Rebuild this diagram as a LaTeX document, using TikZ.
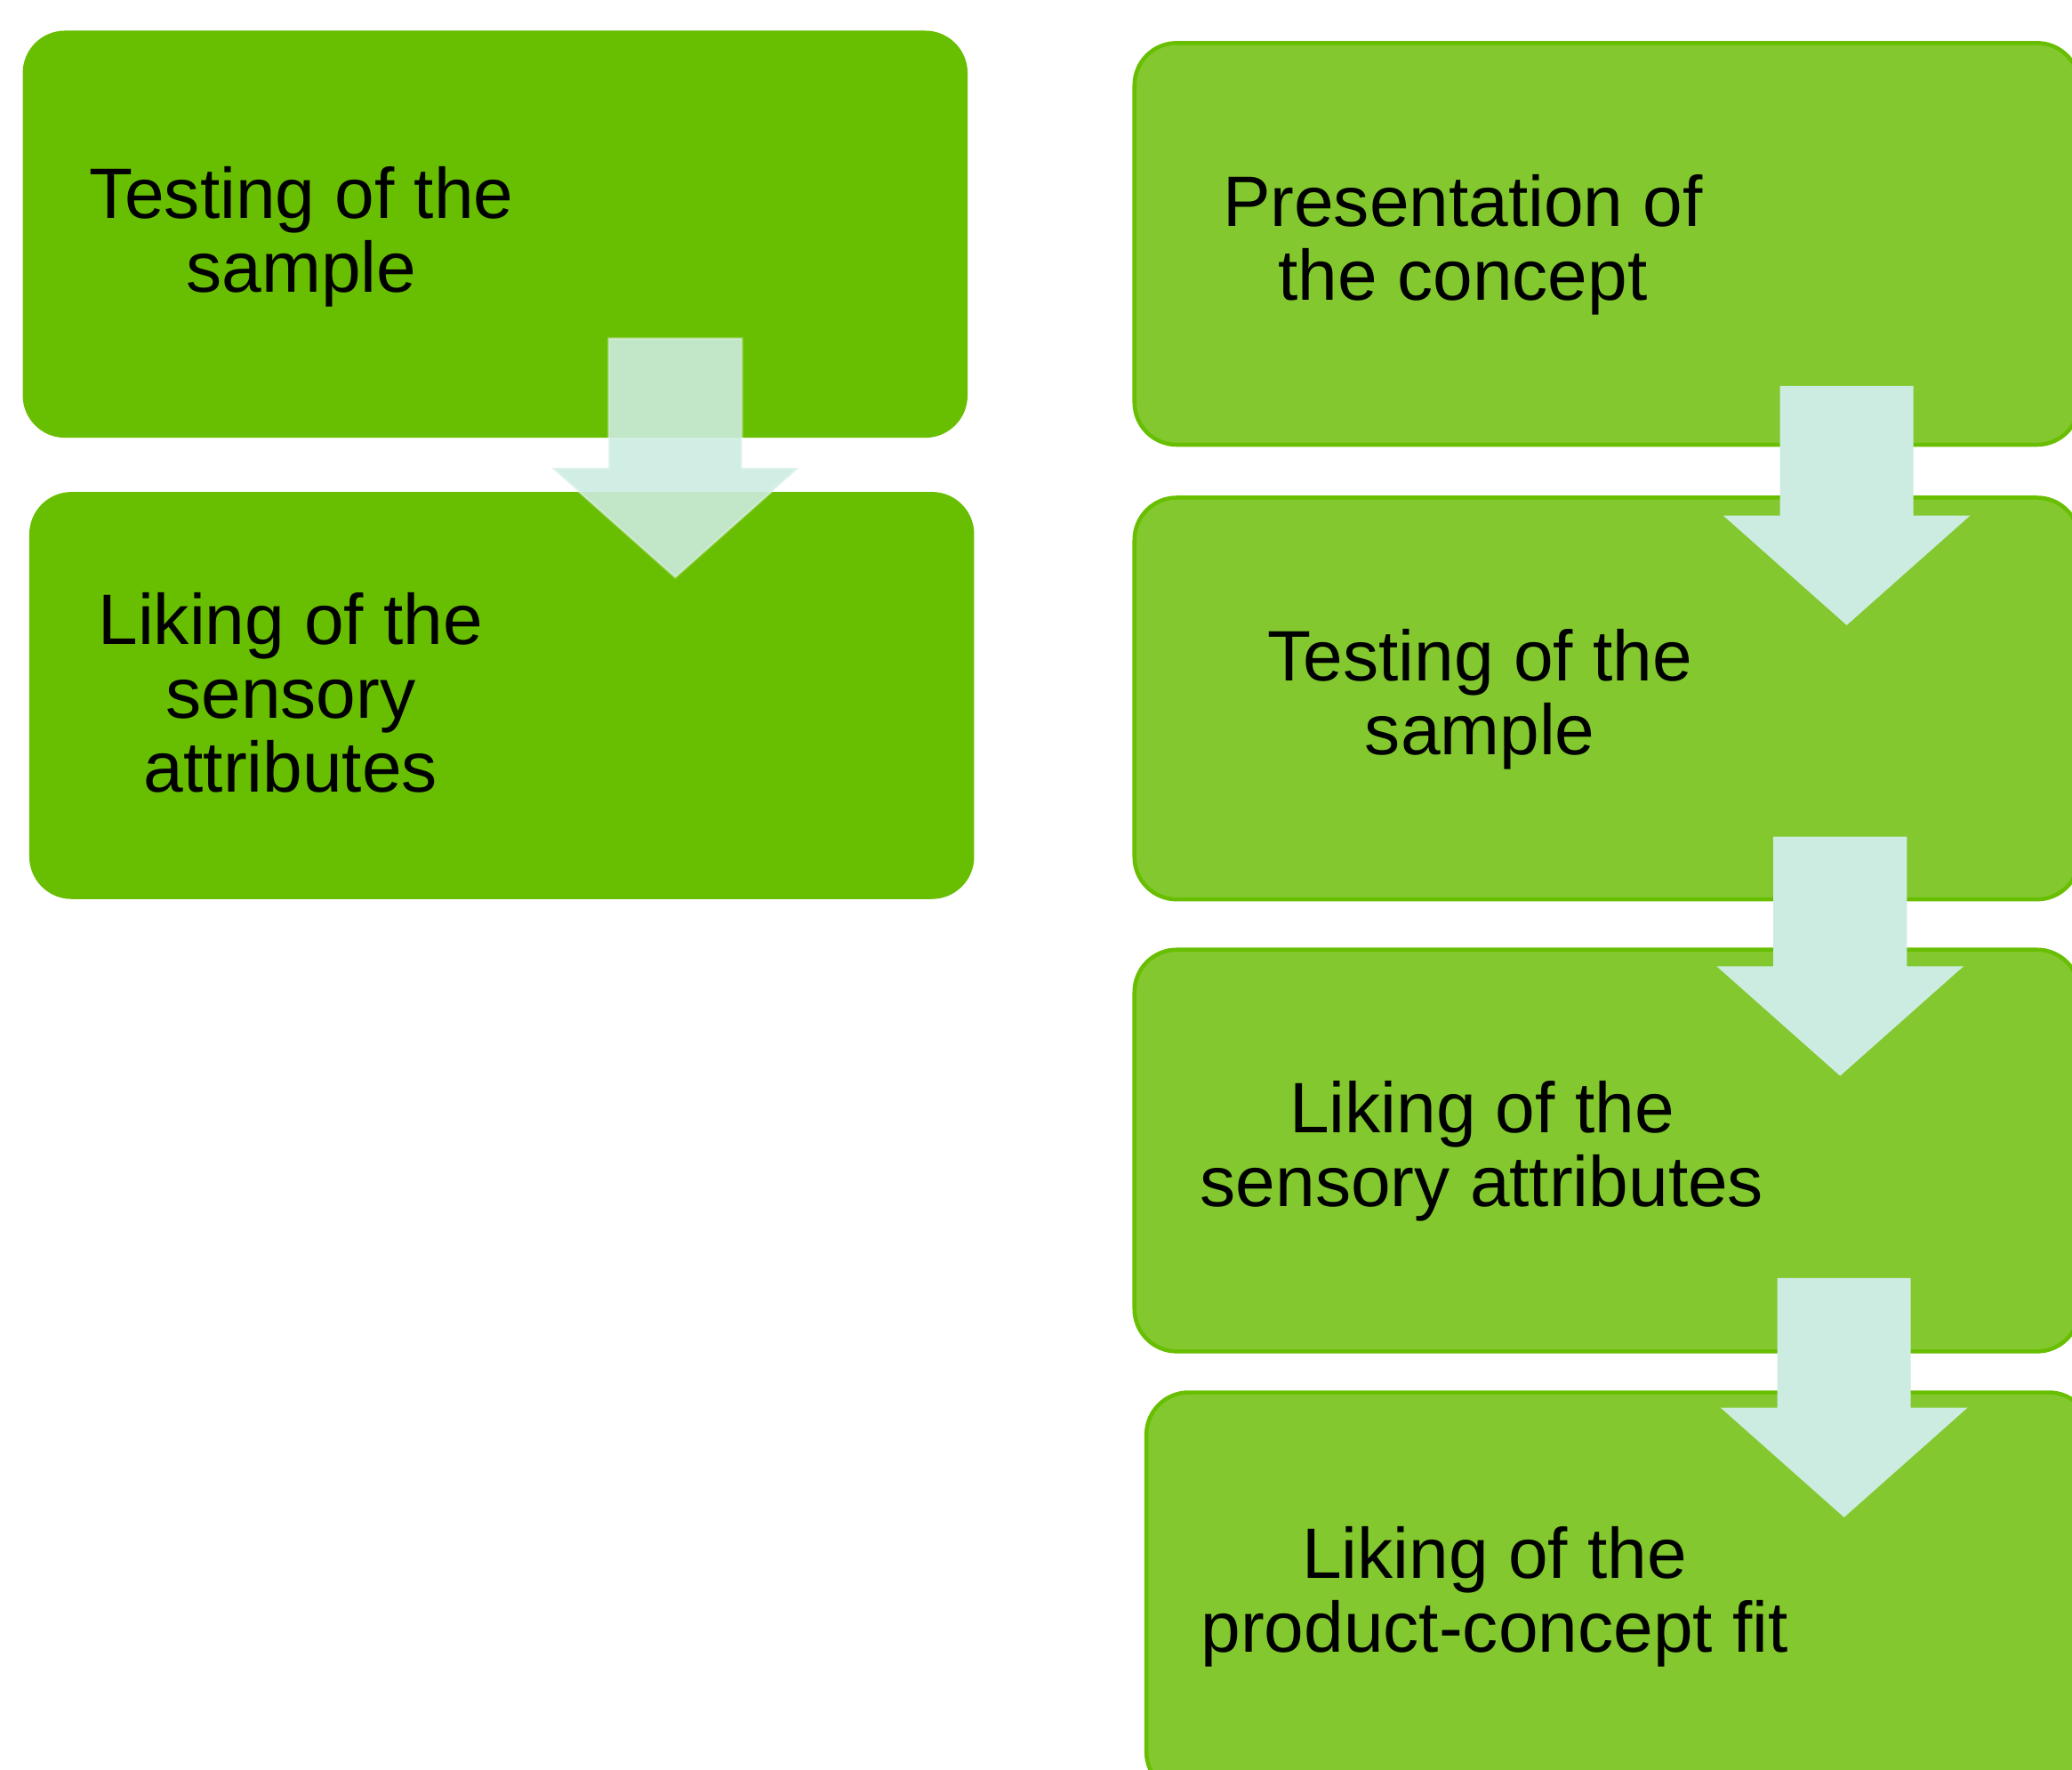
\documentclass[tikz,border=0pt]{standalone}
\usepackage{fontspec}
\setmainfont{Liberation Sans}
\usetikzlibrary{positioning}
\definecolor{leafgreen}{RGB}{104,190,0}
\definecolor{limegreen}{RGB}{130,200,46}
\definecolor{mint}{RGB}{204,236,225}
% block arrow pointing down: #2 = x of the axis, #3 = y of the top
\newcommand{\blockarrow}[3][]{%
  \fill[#1] (#2-50.5,#3)--(#2+50.5,#3)--(#2+50.5,#3+98)--(#2+93.5,#3+98)
    --(#2,#3+181)--(#2-93.5,#3+98)--(#2-50.5,#3+98)--cycle;}
\begin{document}
\begin{tikzpicture}[x=1pt,y=-1pt,
	box/.style={rectangle,rounded corners=32pt,anchor=north west,minimum width=715pt,minimum height=308pt,inner sep=0pt},
	darkbox/.style={box,fill=leafgreen},
	lightbox/.style={box,minimum height=304pt,fill=limegreen,draw=leafgreen,line width=3pt},
	lbl/.style={align=center,inner sep=0pt,font=\fontsize{54}{56}\selectfont}]
	\useasboundingbox (0,0) rectangle (1568,1339);
	\clip (0,0) rectangle (1568,1339);
	\fill[white] (0,0) rectangle (1568,1339);
	% left column
	\node[darkbox] (lefttest) at (17,23) {};
	\node[darkbox] (leftlike) at (22,372) {};
	\blockarrow[mint,opacity=0.89]{511}{256}
	\draw[white,opacity=0.25,line width=2pt] (460.5,256)--(561.5,256)--(561.5,354)--(604,354)--(511,437)--(418,354)--(460.5,354)--cycle;
	\node[lbl] (lefttest-t) at (228,179) {Testing of the\\sample};
	\node[lbl] (leftlike-t) at (220,524) {Liking of the\\sensory\\attributes};
	% right column
	\node[lightbox] (present) at (857,31) {};
	\node[lightbox] (test) at (857,375) {};
	\node[lightbox] (sensory) at (857,717) {};
	\node[lightbox] (fit) at (866,1052) {};
	\blockarrow[mint]{1397.5}{292}
	\blockarrow[mint]{1392.5}{633}
	\blockarrow[mint]{1395.5}{967}
	\node[lbl] (present-t) at (1107,185) {Presentation of\\the concept};
	\node[lbl] (test-t) at (1120,529) {Testing of the\\sample};
	\node[lbl] (sensory-t) at (1121.5,871) {Liking of the\\sensory attributes};
	\node[lbl] (fit-t) at (1131,1208) {Liking of the\\product-concept fit};
\end{tikzpicture}
\end{document}
